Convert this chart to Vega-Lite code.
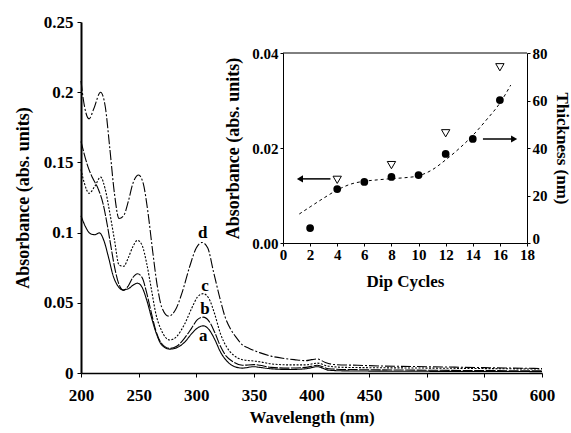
{
  "$schema": "https://vega.github.io/schema/vega-lite/v6.json",
  "width": 461,
  "height": 351,
  "autosize": "none",
  "padding": {"left": 81, "top": 22, "right": 29, "bottom": 60},
  "background": "white",
  "datasets": {
    "spectra": [
      {"wl": 200, "abs": 0.208, "s": "d"}, {"wl": 202, "abs": 0.195, "s": "d"}, {"wl": 207, "abs": 0.181, "s": "d"}, {"wl": 211, "abs": 0.188, "s": "d"}, {"wl": 217, "abs": 0.2, "s": "d"}, {"wl": 221, "abs": 0.19, "s": "d"}, {"wl": 225, "abs": 0.16, "s": "d"}, {"wl": 229, "abs": 0.128, "s": "d"}, {"wl": 233, "abs": 0.11, "s": "d"}, {"wl": 237, "abs": 0.112, "s": "d"}, {"wl": 241, "abs": 0.122, "s": "d"}, {"wl": 245, "abs": 0.135, "s": "d"}, {"wl": 250, "abs": 0.141, "s": "d"}, {"wl": 254, "abs": 0.135, "s": "d"}, {"wl": 258, "abs": 0.115, "s": "d"}, {"wl": 262, "abs": 0.088, "s": "d"}, {"wl": 266, "abs": 0.063, "s": "d"}, {"wl": 270, "abs": 0.047, "s": "d"}, {"wl": 276, "abs": 0.0405, "s": "d"}, {"wl": 282, "abs": 0.045, "s": "d"}, {"wl": 288, "abs": 0.058, "s": "d"}, {"wl": 294, "abs": 0.075, "s": "d"}, {"wl": 300, "abs": 0.089, "s": "d"}, {"wl": 305, "abs": 0.093, "s": "d"}, {"wl": 310, "abs": 0.089, "s": "d"}, {"wl": 315, "abs": 0.072, "s": "d"}, {"wl": 320, "abs": 0.055, "s": "d"}, {"wl": 325, "abs": 0.04, "s": "d"}, {"wl": 330, "abs": 0.031, "s": "d"}, {"wl": 335, "abs": 0.025, "s": "d"}, {"wl": 340, "abs": 0.02, "s": "d"}, {"wl": 346, "abs": 0.0175, "s": "d"}, {"wl": 355, "abs": 0.0145, "s": "d"}, {"wl": 365, "abs": 0.012, "s": "d"}, {"wl": 375, "abs": 0.0105, "s": "d"}, {"wl": 385, "abs": 0.0095, "s": "d"}, {"wl": 395, "abs": 0.0088, "s": "d"}, {"wl": 400, "abs": 0.0095, "s": "d"}, {"wl": 405, "abs": 0.01, "s": "d"}, {"wl": 412, "abs": 0.0075, "s": "d"}, {"wl": 420, "abs": 0.006, "s": "d"}, {"wl": 440, "abs": 0.0055, "s": "d"}, {"wl": 460, "abs": 0.005, "s": "d"}, {"wl": 500, "abs": 0.0045, "s": "d"}, {"wl": 550, "abs": 0.0038, "s": "d"}, {"wl": 600, "abs": 0.0032, "s": "d"},
      {"wl": 200, "abs": 0.145, "s": "c"}, {"wl": 203, "abs": 0.135, "s": "c"}, {"wl": 207, "abs": 0.128, "s": "c"}, {"wl": 212, "abs": 0.133, "s": "c"}, {"wl": 217, "abs": 0.1395, "s": "c"}, {"wl": 221, "abs": 0.131, "s": "c"}, {"wl": 225, "abs": 0.114, "s": "c"}, {"wl": 229, "abs": 0.095, "s": "c"}, {"wl": 233, "abs": 0.077, "s": "c"}, {"wl": 237, "abs": 0.076, "s": "c"}, {"wl": 241, "abs": 0.082, "s": "c"}, {"wl": 245, "abs": 0.09, "s": "c"}, {"wl": 249, "abs": 0.0945, "s": "c"}, {"wl": 253, "abs": 0.091, "s": "c"}, {"wl": 257, "abs": 0.078, "s": "c"}, {"wl": 261, "abs": 0.06, "s": "c"}, {"wl": 265, "abs": 0.042, "s": "c"}, {"wl": 270, "abs": 0.03, "s": "c"}, {"wl": 277, "abs": 0.0235, "s": "c"}, {"wl": 283, "abs": 0.026, "s": "c"}, {"wl": 290, "abs": 0.035, "s": "c"}, {"wl": 296, "abs": 0.046, "s": "c"}, {"wl": 301, "abs": 0.054, "s": "c"}, {"wl": 306, "abs": 0.0565, "s": "c"}, {"wl": 311, "abs": 0.053, "s": "c"}, {"wl": 316, "abs": 0.042, "s": "c"}, {"wl": 321, "abs": 0.028, "s": "c"}, {"wl": 326, "abs": 0.019, "s": "c"}, {"wl": 332, "abs": 0.013, "s": "c"}, {"wl": 340, "abs": 0.0095, "s": "c"}, {"wl": 350, "abs": 0.0085, "s": "c"}, {"wl": 355, "abs": 0.008, "s": "c"}, {"wl": 365, "abs": 0.0065, "s": "c"}, {"wl": 380, "abs": 0.0058, "s": "c"}, {"wl": 395, "abs": 0.0058, "s": "c"}, {"wl": 405, "abs": 0.007, "s": "c"}, {"wl": 415, "abs": 0.0048, "s": "c"}, {"wl": 430, "abs": 0.004, "s": "c"}, {"wl": 500, "abs": 0.0035, "s": "c"}, {"wl": 600, "abs": 0.0028, "s": "c"},
      {"wl": 200, "abs": 0.165, "s": "b"}, {"wl": 206, "abs": 0.147, "s": "b"}, {"wl": 210, "abs": 0.139, "s": "b"}, {"wl": 215, "abs": 0.131, "s": "b"}, {"wl": 219, "abs": 0.121, "s": "b"}, {"wl": 223, "abs": 0.1045, "s": "b"}, {"wl": 226, "abs": 0.09, "s": "b"}, {"wl": 229, "abs": 0.076, "s": "b"}, {"wl": 233, "abs": 0.063, "s": "b"}, {"wl": 237, "abs": 0.0588, "s": "b"}, {"wl": 241, "abs": 0.062, "s": "b"}, {"wl": 245, "abs": 0.068, "s": "b"}, {"wl": 249, "abs": 0.0707, "s": "b"}, {"wl": 253, "abs": 0.068, "s": "b"}, {"wl": 257, "abs": 0.057, "s": "b"}, {"wl": 261, "abs": 0.043, "s": "b"}, {"wl": 265, "abs": 0.03, "s": "b"}, {"wl": 270, "abs": 0.021, "s": "b"}, {"wl": 277, "abs": 0.0175, "s": "b"}, {"wl": 283, "abs": 0.019, "s": "b"}, {"wl": 290, "abs": 0.025, "s": "b"}, {"wl": 296, "abs": 0.032, "s": "b"}, {"wl": 301, "abs": 0.038, "s": "b"}, {"wl": 306, "abs": 0.0398, "s": "b"}, {"wl": 311, "abs": 0.037, "s": "b"}, {"wl": 316, "abs": 0.029, "s": "b"}, {"wl": 321, "abs": 0.019, "s": "b"}, {"wl": 326, "abs": 0.012, "s": "b"}, {"wl": 332, "abs": 0.008, "s": "b"}, {"wl": 340, "abs": 0.0055, "s": "b"}, {"wl": 350, "abs": 0.006, "s": "b"}, {"wl": 355, "abs": 0.0055, "s": "b"}, {"wl": 365, "abs": 0.004, "s": "b"}, {"wl": 380, "abs": 0.0035, "s": "b"}, {"wl": 395, "abs": 0.004, "s": "b"}, {"wl": 405, "abs": 0.0055, "s": "b"}, {"wl": 415, "abs": 0.003, "s": "b"}, {"wl": 430, "abs": 0.0025, "s": "b"}, {"wl": 500, "abs": 0.002, "s": "b"}, {"wl": 600, "abs": 0.0015, "s": "b"},
      {"wl": 200, "abs": 0.112, "s": "a"}, {"wl": 204, "abs": 0.104, "s": "a"}, {"wl": 208, "abs": 0.0993, "s": "a"}, {"wl": 212, "abs": 0.0985, "s": "a"}, {"wl": 216, "abs": 0.0998, "s": "a"}, {"wl": 220, "abs": 0.094, "s": "a"}, {"wl": 224, "abs": 0.082, "s": "a"}, {"wl": 228, "abs": 0.069, "s": "a"}, {"wl": 232, "abs": 0.062, "s": "a"}, {"wl": 236, "abs": 0.0593, "s": "a"}, {"wl": 241, "abs": 0.06, "s": "a"}, {"wl": 245, "abs": 0.0625, "s": "a"}, {"wl": 249, "abs": 0.064, "s": "a"}, {"wl": 253, "abs": 0.061, "s": "a"}, {"wl": 257, "abs": 0.052, "s": "a"}, {"wl": 261, "abs": 0.04, "s": "a"}, {"wl": 265, "abs": 0.029, "s": "a"}, {"wl": 270, "abs": 0.02, "s": "a"}, {"wl": 277, "abs": 0.017, "s": "a"}, {"wl": 283, "abs": 0.018, "s": "a"}, {"wl": 290, "abs": 0.022, "s": "a"}, {"wl": 296, "abs": 0.028, "s": "a"}, {"wl": 301, "abs": 0.032, "s": "a"}, {"wl": 306, "abs": 0.0336, "s": "a"}, {"wl": 311, "abs": 0.031, "s": "a"}, {"wl": 316, "abs": 0.024, "s": "a"}, {"wl": 321, "abs": 0.015, "s": "a"}, {"wl": 326, "abs": 0.009, "s": "a"}, {"wl": 332, "abs": 0.005, "s": "a"}, {"wl": 340, "abs": 0.0035, "s": "a"}, {"wl": 350, "abs": 0.0045, "s": "a"}, {"wl": 355, "abs": 0.004, "s": "a"}, {"wl": 365, "abs": 0.003, "s": "a"}, {"wl": 380, "abs": 0.0025, "s": "a"}, {"wl": 395, "abs": 0.003, "s": "a"}, {"wl": 405, "abs": 0.0045, "s": "a"}, {"wl": 415, "abs": 0.002, "s": "a"}, {"wl": 430, "abs": 0.0015, "s": "a"}, {"wl": 500, "abs": 0.0012, "s": "a"}, {"wl": 600, "abs": 0.001, "s": "a"}
    ],
    "curveLabels": [
      {"wl": 305.6, "abs": 0.1, "s": "d"},
      {"wl": 307.6, "abs": 0.062, "s": "c"},
      {"wl": 307.6, "abs": 0.0455, "s": "b"},
      {"wl": 306, "abs": 0.026, "s": "a"}
    ],
    "insetFrame": [{"cycle": 0, "cycle2": 18, "abs": 0.04}],
    "insetAbs": [
      {"cycle": 4, "abs": 0.0133},
      {"cycle": 8, "abs": 0.0164},
      {"cycle": 12, "abs": 0.0231},
      {"cycle": 16, "abs": 0.037}
    ],
    "arrowLeft": [{"cycle": 3.5, "cycle2": 1.25, "abs": 0.0135}],
    "insetThick": [
      {"cycle": 2, "thick": 6.3},
      {"cycle": 4, "thick": 22.7},
      {"cycle": 6, "thick": 25.7},
      {"cycle": 8, "thick": 27.8},
      {"cycle": 10, "thick": 28.6},
      {"cycle": 12, "thick": 37.5},
      {"cycle": 14, "thick": 43.8},
      {"cycle": 16, "thick": 60.2}
    ],
    "fit": [
      {"cycle": 1.2, "thick": 12.2}, {"cycle": 2, "thick": 15.2}, {"cycle": 3, "thick": 18.9}, {"cycle": 4, "thick": 22.3}, {"cycle": 5, "thick": 24.8}, {"cycle": 6, "thick": 26.0}, {"cycle": 7, "thick": 26.6}, {"cycle": 8, "thick": 27.1}, {"cycle": 9, "thick": 27.5}, {"cycle": 10, "thick": 28.3}, {"cycle": 11, "thick": 30.8}, {"cycle": 12, "thick": 35.0}, {"cycle": 13, "thick": 39.8}, {"cycle": 14, "thick": 45.3}, {"cycle": 15, "thick": 51.8}, {"cycle": 16, "thick": 58.9}, {"cycle": 16.8, "thick": 66.5}
    ],
    "arrowRight": [{"cycle": 14.75, "cycle2": 17.05, "thick": 43.8}]
  },
  "layer": [
    {
      "layer": [
        {
          "data": {"name": "spectra"},
          "mark": {"type": "line", "interpolate": "monotone", "strokeWidth": 1.1, "color": "black"},
          "encoding": {
            "x": {"field": "wl", "type": "quantitative", "scale": {"domain": [200, 600], "nice": false, "zero": false},
                  "axis": {"orient": "bottom", "values": [200, 250, 300, 350, 400, 450, 500, 550, 600], "title": "Wavelength (nm)", "labelFontSize": 17, "titleFontSize": 17, "domainWidth": 1.5, "tickSize": 4, "labelPadding": 10, "titlePadding": 6}},
            "y": {"field": "abs", "type": "quantitative", "scale": {"domain": [0, 0.25], "nice": false},
                  "axis": {"orient": "left", "values": [0, 0.05, 0.1, 0.15, 0.2, 0.25], "format": "~g", "title": "Absorbance (abs. units)", "labelFontSize": 17, "titleFontSize": 18, "domainWidth": 2, "tickSize": 4, "labelPadding": 4, "titlePadding": 11}},
            "strokeDash": {"field": "s", "type": "nominal", "scale": {"domain": ["a", "b", "c", "d"], "range": [[1, 0], [10, 1.5], [2, 1.5], [10, 2, 2, 2]]}, "legend": null},
            "detail": {"field": "s"}
          }
        },
        {
          "data": {"name": "curveLabels"},
          "mark": {"type": "text", "fontWeight": "bold", "fontSize": 17, "font": "Liberation Serif", "color": "black", "baseline": "middle", "align": "center"},
          "encoding": {
            "x": {"field": "wl", "type": "quantitative", "title": "Wavelength (nm)"},
            "y": {"field": "abs", "type": "quantitative", "title": "Absorbance (abs. units)"},
            "text": {"field": "s"}
          }
        }
      ]
    },
    {
      "layer": [
        {
          "layer": [
            {
              "data": {"name": "insetAbs"},
              "mark": {"type": "point", "shape": "triangle-down", "size": 70, "filled": false, "fill": "white", "stroke": "black", "strokeWidth": 1, "opacity": 1},
              "encoding": {
                "x": {"field": "cycle", "type": "quantitative", "scale": {"domain": [0, 18], "range": [202, 446], "nice": false, "zero": false},
                      "axis": {"orient": "bottom", "offset": -130, "values": [0, 2, 4, 6, 8, 10, 12, 14, 16, 18], "title": "Dip Cycles", "labelFontSize": 15, "titleFontSize": 17, "tickSize": 3, "labelPadding": 1, "titlePadding": 11, "domainWidth": 1}},
                "y": {"field": "abs", "type": "quantitative", "scale": {"domain": [0, 0.04], "range": [221, 31], "nice": false},
                      "axis": {"orient": "left", "offset": -202, "values": [0, 0.02, 0.04], "format": ".2f", "title": "Absorbance (abs. units)", "labelFontSize": 15, "titleFontSize": 18, "tickSize": 3, "labelPadding": 2, "titlePadding": 9, "domainWidth": 1}}
              }
            },
            {
              "data": {"name": "insetFrame"},
              "mark": {"type": "rule", "color": "black", "strokeWidth": 1},
              "encoding": {
                "x": {"field": "cycle", "type": "quantitative", "title": "Dip Cycles"},
                "x2": {"field": "cycle2"},
                "y": {"field": "abs", "type": "quantitative", "title": "Absorbance (abs. units)"}
              }
            },
            {
              "data": {"name": "arrowLeft"},
              "mark": {"type": "rule", "color": "black", "strokeWidth": 1.5},
              "encoding": {
                "x": {"field": "cycle", "type": "quantitative", "title": "Dip Cycles"},
                "x2": {"field": "cycle2"},
                "y": {"field": "abs", "type": "quantitative", "title": "Absorbance (abs. units)"}
              }
            },
            {
              "data": {"name": "arrowLeft"},
              "mark": {"type": "point", "shape": "triangle-left", "size": 50, "filled": true, "color": "black", "opacity": 1},
              "encoding": {
                "x": {"field": "cycle2", "type": "quantitative", "title": "Dip Cycles"},
                "y": {"field": "abs", "type": "quantitative", "title": "Absorbance (abs. units)"}
              }
            }
          ]
        },
        {
          "layer": [
            {
              "data": {"name": "fit"},
              "mark": {"type": "line", "interpolate": "monotone", "color": "black", "strokeWidth": 1, "strokeDash": [3, 3]},
              "encoding": {
                "x": {"field": "cycle", "type": "quantitative", "title": "Dip Cycles"},
                "y": {"field": "thick", "type": "quantitative", "scale": {"domain": [0, 80], "range": [221, 31], "nice": false},
                      "axis": {"orient": "right", "offset": -15, "values": [0, 20, 40, 60, 80], "title": "Thickness (nm)", "titleAngle": 90, "labelFontSize": 15, "titleFontSize": 17, "tickSize": 3, "labelPadding": 2, "titlePadding": 5, "domainWidth": 1,
                           "labelOffset": {"condition": {"test": "datum.value === 0", "value": -5}, "value": 0}}}
              }
            },
            {
              "data": {"name": "insetThick"},
              "mark": {"type": "point", "shape": "circle", "size": 60, "filled": true, "color": "black", "opacity": 1},
              "encoding": {
                "x": {"field": "cycle", "type": "quantitative", "title": "Dip Cycles"},
                "y": {"field": "thick", "type": "quantitative", "title": "Thickness (nm)"}
              }
            },
            {
              "data": {"name": "arrowRight"},
              "mark": {"type": "rule", "color": "black", "strokeWidth": 1.5},
              "encoding": {
                "x": {"field": "cycle", "type": "quantitative", "title": "Dip Cycles"},
                "x2": {"field": "cycle2"},
                "y": {"field": "thick", "type": "quantitative", "title": "Thickness (nm)"}
              }
            },
            {
              "data": {"name": "arrowRight"},
              "mark": {"type": "point", "shape": "triangle-right", "size": 50, "filled": true, "color": "black", "opacity": 1},
              "encoding": {
                "x": {"field": "cycle2", "type": "quantitative", "title": "Dip Cycles"},
                "y": {"field": "thick", "type": "quantitative", "title": "Thickness (nm)"}
              }
            }
          ]
        }
      ],
      "resolve": {"scale": {"y": "independent"}, "axis": {"y": "independent"}}
    }
  ],
  "resolve": {"scale": {"x": "independent", "y": "independent"}, "axis": {"x": "independent", "y": "independent"}},
  "config": {
    "view": {"stroke": null},
    "axis": {"labelFont": "Liberation Serif", "titleFont": "Liberation Serif", "labelFontWeight": "bold", "titleFontWeight": "bold", "labelColor": "black", "titleColor": "black", "domainColor": "black", "tickColor": "black", "grid": false, "labelFlush": false, "labelOverlap": false},
    "text": {"font": "Liberation Serif"}
  }
}
